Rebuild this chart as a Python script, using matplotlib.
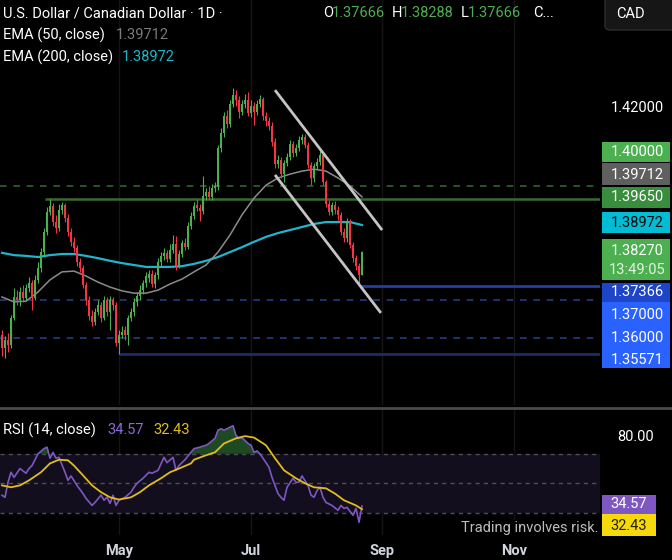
import matplotlib
matplotlib.use("Agg")
import matplotlib.pyplot as plt
from matplotlib import patches, font_manager
import numpy as np

# daily candles, oldest first (last bar is the live one)
opens = [1.3608, 1.3574, 1.3595, 1.3582, 1.3653, 1.3708, 1.3700, 1.3721, 1.3705, 1.3732,
         1.3745, 1.3705, 1.3753, 1.3784, 1.3826, 1.3879, 1.3931, 1.3947, 1.3905, 1.3889,
         1.3937, 1.3950, 1.3916, 1.3879, 1.3853, 1.3837, 1.3800, 1.3784, 1.3739, 1.3700,
         1.3658, 1.3642, 1.3669, 1.3687, 1.3653, 1.3700, 1.3669, 1.3700, 1.3687, 1.3587,
         1.3608, 1.3621, 1.3608, 1.3653, 1.3669, 1.3695, 1.3711, 1.3726, 1.3745, 1.3758,
         1.3768, 1.3742, 1.3766, 1.3800, 1.3816, 1.3824, 1.3808, 1.3831, 1.3847, 1.3789,
         1.3821, 1.3850, 1.3839, 1.3895, 1.3921, 1.3950, 1.3942, 1.3934, 1.3974, 1.3984,
         1.3971, 1.3995, 1.3997, 1.4100, 1.4139, 1.4184, 1.4163, 1.4215, 1.4239, 1.4226,
         1.4194, 1.4215, 1.4226, 1.4192, 1.4210, 1.4194, 1.4215, 1.4229, 1.4184, 1.4171,
         1.4158, 1.4116, 1.4058, 1.4068, 1.4031, 1.4060, 1.4076, 1.4110, 1.4087, 1.4100,
         1.4121, 1.4129, 1.4108, 1.4055, 1.4021, 1.4052, 1.4063, 1.4081, 1.4010, 1.3952,
         1.3931, 1.3950, 1.3937, 1.3924, 1.3879, 1.3863, 1.3905, 1.3845, 1.3810, 1.3789,
         1.37666]
highs = [1.3621, 1.3605, 1.3613, 1.3661, 1.3732, 1.3726, 1.3734, 1.3739, 1.3742, 1.3760,
         1.3753, 1.3766, 1.3800, 1.3837, 1.3889, 1.3945, 1.3965, 1.3955, 1.3924, 1.3952,
         1.3958, 1.3955, 1.3926, 1.3889, 1.3866, 1.3845, 1.3810, 1.3792, 1.3747, 1.3711,
         1.3674, 1.3679, 1.3700, 1.3695, 1.3711, 1.3708, 1.3711, 1.3708, 1.3695, 1.3621,
         1.3632, 1.3632, 1.3661, 1.3679, 1.3705, 1.3721, 1.3739, 1.3753, 1.3774, 1.3779,
         1.3779, 1.3774, 1.3810, 1.3826, 1.3837, 1.3831, 1.3847, 1.3871, 1.3868, 1.3831,
         1.3858, 1.3863, 1.3905, 1.3931, 1.3958, 1.3966, 1.3952, 1.4026, 1.3995, 1.4000,
         1.4005, 1.4010, 1.4108, 1.4152, 1.4194, 1.4200, 1.4226, 1.4258, 1.4252, 1.4237,
         1.4226, 1.4242, 1.4247, 1.4226, 1.4221, 1.4226, 1.4239, 1.4234, 1.4194, 1.4181,
         1.4168, 1.4126, 1.4081, 1.4076, 1.4068, 1.4087, 1.4121, 1.4118, 1.4110, 1.4131,
         1.4137, 1.4137, 1.4116, 1.4063, 1.4060, 1.4073, 1.4092, 1.4089, 1.4016, 1.3963,
         1.3958, 1.3960, 1.3947, 1.3931, 1.3889, 1.3916, 1.3913, 1.3853, 1.3818, 1.3797,
         1.38288]
lows = [1.3553, 1.3547, 1.3563, 1.3574, 1.3647, 1.3687, 1.3684, 1.3695, 1.3700, 1.3721,
        1.3674, 1.3700, 1.3745, 1.3774, 1.3818, 1.3871, 1.3924, 1.3895, 1.3876, 1.3881,
        1.3926, 1.3905, 1.3868, 1.3842, 1.3826, 1.3789, 1.3774, 1.3732, 1.3687, 1.3647,
        1.3632, 1.3634, 1.3661, 1.3642, 1.3647, 1.3658, 1.3621, 1.3674, 1.3579, 1.35571,
        1.3600, 1.3595, 1.3582, 1.3645, 1.3658, 1.3684, 1.3700, 1.3716, 1.3734, 1.3747,
        1.3734, 1.3732, 1.3755, 1.3789, 1.3805, 1.3800, 1.3800, 1.3824, 1.3779, 1.3784,
        1.3813, 1.3831, 1.3834, 1.3887, 1.3913, 1.3934, 1.3908, 1.3926, 1.3963, 1.3963,
        1.3963, 1.3984, 1.3989, 1.4089, 1.4129, 1.4152, 1.4155, 1.4208, 1.4210, 1.4179,
        1.4187, 1.4205, 1.4184, 1.4181, 1.4160, 1.4187, 1.4208, 1.4173, 1.4158, 1.4147,
        1.4105, 1.4047, 1.4047, 1.4021, 1.4010, 1.4052, 1.4068, 1.4076, 1.4079, 1.4092,
        1.4110, 1.4100, 1.4047, 1.4002, 1.4010, 1.4044, 1.4055, 1.4002, 1.3945, 1.3924,
        1.3924, 1.3926, 1.3910, 1.3871, 1.3853, 1.3853, 1.3837, 1.3800, 1.3779, 1.37366,
        1.37666]
closes = [1.3574, 1.3595, 1.3582, 1.3653, 1.3708, 1.3700, 1.3721, 1.3705, 1.3732, 1.3745,
          1.3705, 1.3753, 1.3784, 1.3826, 1.3879, 1.3931, 1.3947, 1.3905, 1.3889, 1.3937,
          1.3950, 1.3916, 1.3879, 1.3853, 1.3837, 1.3800, 1.3784, 1.3739, 1.3700, 1.3658,
          1.3642, 1.3669, 1.3687, 1.3653, 1.3700, 1.3669, 1.3700, 1.3687, 1.3587, 1.3608,
          1.3616, 1.3608, 1.3653, 1.3669, 1.3695, 1.3711, 1.3726, 1.3745, 1.3763, 1.3768,
          1.3742, 1.3766, 1.3800, 1.3816, 1.3824, 1.3808, 1.3831, 1.3847, 1.3789, 1.3821,
          1.3850, 1.3839, 1.3895, 1.3921, 1.3947, 1.3942, 1.3934, 1.3974, 1.3984, 1.3971,
          1.3995, 1.4000, 1.4100, 1.4139, 1.4184, 1.4163, 1.4215, 1.4239, 1.4226, 1.4194,
          1.4215, 1.4226, 1.4192, 1.4210, 1.4194, 1.4215, 1.4229, 1.4184, 1.4171, 1.4158,
          1.4116, 1.4058, 1.4068, 1.4031, 1.4060, 1.4076, 1.4110, 1.4087, 1.4100, 1.4121,
          1.4129, 1.4108, 1.4055, 1.4021, 1.4052, 1.4063, 1.4081, 1.4010, 1.3952, 1.3931,
          1.3950, 1.3937, 1.3924, 1.3879, 1.3863, 1.3905, 1.3845, 1.3810, 1.3789, 1.3766,
          1.38270]

# moving averages, read every 4th bar
ema_idx = [0, 4, 8, 12, 16, 20, 24, 28, 32, 36, 40, 44, 48, 52, 56, 60,
           64, 68, 72, 76, 80, 84, 88, 92, 96, 100, 104, 108, 112, 116, 120]
ema50 = [1.3708, 1.3695, 1.3697, 1.3721, 1.3753, 1.3774, 1.3776, 1.3763, 1.3747, 1.3734,
         1.3724, 1.3718, 1.3718, 1.3726, 1.3742, 1.3755, 1.3774, 1.3792, 1.3826, 1.3871,
         1.3924, 1.3968, 1.4002, 1.4021, 1.4031, 1.4039, 1.4044, 1.4039, 1.4021, 1.4000,
         1.39712]
ema200 = [1.3824, 1.3818, 1.3816, 1.3813, 1.3818, 1.3821, 1.3821, 1.3816, 1.3810, 1.3803,
          1.3797, 1.3792, 1.3787, 1.3787, 1.3787, 1.3789, 1.3795, 1.3803, 1.3813, 1.3826,
          1.3839, 1.3853, 1.3866, 1.3876, 1.3884, 1.3892, 1.3900, 1.3905, 1.3905, 1.3905,
          1.38972]

rsi_idx = [0, 1, 2, 3, 4, 6, 8, 9, 10, 12, 14, 15, 16, 17, 18, 19, 21, 22, 23, 25,
           27, 28, 30, 31, 33, 34, 35, 36, 37, 38, 39, 41, 43, 44, 45, 47, 49, 50, 52, 54,
           55, 57, 58, 59, 61, 63, 64, 66, 68, 69, 71, 72, 73, 74, 76, 77, 78, 79, 80, 82,
           83, 84, 85, 86, 88, 89, 90, 92, 93, 94, 95, 97, 98, 99, 100, 102, 103, 104, 105, 106,
           107, 108, 110, 112, 113, 114, 115, 117, 118, 119, 120]
rsi = [41.9, 40.5, 50.7, 57.5, 54.0, 60.0, 56.8, 60.0, 62.0, 70.0, 73.5, 74.5, 67.0, 71.0, 67.0, 67.6, 57.5, 52.0, 55.0, 48.6,
       43.0, 39.8, 35.0, 37.0, 42.0, 38.5, 40.5, 36.4, 41.9, 35.0, 38.5, 40.5, 44.0, 47.3, 50.0, 53.4, 57.5, 56.8, 58.8, 67.6,
       64.0, 67.6, 58.8, 62.0, 66.0, 71.0, 73.5, 74.5, 75.8, 77.0, 80.5, 86.0, 87.0, 86.0, 88.0, 89.0, 82.5, 80.5, 81.0, 77.0,
       75.8, 71.0, 72.0, 70.0, 64.0, 60.8, 54.0, 43.0, 40.5, 38.5, 47.3, 53.4, 50.7, 50.7, 55.0, 48.6, 42.0, 40.5, 45.0, 47.3,
       40.5, 37.0, 35.0, 31.7, 35.0, 33.0, 33.7, 28.3, 33.0, 23.6, 34.57]
rsi_ma_idx = [0, 3, 6, 9, 13, 16, 19, 22, 24, 27, 30, 33, 36, 39, 43, 46, 49, 53, 56, 59,
              63, 64, 68, 71, 74, 78, 81, 84, 88, 91, 94, 98, 101, 104, 108, 111, 114, 118, 120]
rsi_ma = [48.6, 47.3, 48.6, 52.0, 57.5, 63.5, 66.0, 65.6, 62.0, 55.4, 48.6, 44.0, 40.5, 39.0, 40.5, 44.0, 48.6, 53.4, 57.5, 60.0,
          63.5, 66.0, 69.0, 71.0, 77.0, 80.5, 82.0, 81.0, 75.8, 67.0, 58.8, 53.4, 50.0, 47.3, 46.6, 43.0, 38.5, 35.0, 32.43]

month_labels = ["May", "Jul", "Sep", "Nov"]
month_pos = [38.9, 82.9, 126.6, 170.8]

# pixel helpers (figure is 672 x 560)
W, H = 672, 560
def fx(px):
    return px / W
def fy(py):
    return 1 - py / H

names = {f.name for f in font_manager.fontManager.ttflist}
base_font = "Liberation Sans Narrow" if "Liberation Sans Narrow" in names else "Roboto"
plt.rcParams["font.family"] = [base_font, "DejaVu Sans"]

BG = "#000000"
UP = "#4caf50"
DOWN = "#f23645"

fig = plt.figure(figsize=(6.72, 5.6), dpi=100, facecolor=BG)
ax = fig.add_axes([0, fy(405), fx(600), 405 / H])
ax_rsi = fig.add_axes([0, fy(535), fx(600), 125 / H])
for a in (ax, ax_rsi):
    a.set_facecolor(BG)
    a.set_xlim(-0.667, 199.33)
    a.axis("off")
    for m in month_pos:
        a.axvline(m, color="#151515", lw=1, zorder=0)

ax.set_ylim(1.342385, 1.4489)
ax_rsi.set_ylim(14.95, 99.7)

# levels
ax.axhline(1.40000, color="#2f612f", lw=1.2, dashes=(4, 4), zorder=1)
ax.axhline(1.37000, color="#243c80", lw=1.2, dashes=(4, 4), zorder=1)
ax.axhline(1.36000, color="#243c80", lw=1.2, dashes=(4, 4), zorder=1)
ax.hlines(1.39650, 14.3, 199.33, color="#3a6a34", lw=1.8, zorder=1)
ax.hlines(1.37366, 119.3, 199.33, color="#1f3fa8", lw=2, zorder=1)
ax.hlines(1.35571, 39.0, 199.33, color="#1b2c6e", lw=2, zorder=1)

# moving averages
ax.plot(ema_idx, ema200, color="#1fb5cc", lw=1.6, zorder=2)
ax.plot(ema_idx, ema50, color="#8c8c8c", lw=1.1, zorder=2)

# candles
o = np.array(opens)
c = np.array(closes)
h = np.array(highs)
l = np.array(lows)
x = np.arange(len(c))
cols = np.where(c >= o, UP, DOWN)
ax.vlines(x, l, h, colors=cols, lw=0.8, zorder=3)
ax.bar(x, np.maximum(np.abs(c - o), 0.00008), bottom=np.minimum(o, c),
       width=0.66, color=cols, linewidth=0, zorder=4)

# falling channel
ax.plot([91, 126.7], [1.4252, 1.3884], color="#c4c4c4", lw=2, zorder=5, solid_capstyle="butt")
ax.plot([91, 126.3], [1.4029, 1.3666], color="#c4c4c4", lw=2, zorder=5, solid_capstyle="butt")

# RSI panel
ax_rsi.axhspan(30, 70, color="#120e1d", lw=0, zorder=0)
for lv in (70, 50, 30):
    ax_rsi.axhline(lv, color="#505050", lw=1, dashes=(3, 3), zorder=1)
ri = np.array(rsi_idx, dtype=float)
rv = np.array(rsi)
ax_rsi.fill_between(ri, rv, 70, where=rv > 70, interpolate=True,
                    color="#1d4a22", lw=0, zorder=2)
ax_rsi.plot(ri, rv, color="#7e57c2", lw=1.2, zorder=3)
ax_rsi.plot(rsi_ma_idx, rsi_ma, color="#e0bd1c", lw=1.3, zorder=4)

# panel separator
fig.add_artist(plt.Line2D([0, 1], [fy(408), fy(408)], color="#4a4a4a", lw=2))

FS = 10.5

def txt(px, py, s, color="white", ha="left", size=FS, **kw):
    fig.text(fx(px), fy(py), s, color=color, ha=ha, va="center", fontsize=size, **kw)

def tag(top, bot, face, x0=602, x1=670):
    fig.add_artist(patches.Rectangle((fx(x0), fy(bot)), fx(x1) - fx(x0), (bot - top) / H,
                                     transform=fig.transFigure, facecolor=face, lw=0))

# header
txt(3, 13, "U.S. Dollar / Canadian Dollar · 1D ·")
txt(323, 13, "O")
txt(332, 13, "1.37666", color=UP)
txt(392, 13, "H")
txt(401, 13, "1.38288", color=UP)
txt(461, 13, "L")
txt(468, 13, "1.37666", color=UP)
txt(533, 13, "C...")
txt(3, 35, "EMA (50, close)")
txt(116, 35, "1.39712", color="#7a7a7a")
txt(3, 57, "EMA (200, close)")
txt(122, 57, "1.38972", color="#1fb5cc")

fig.add_artist(patches.FancyBboxPatch((fx(605), fy(30)), fx(80), 34 / H,
                                      boxstyle="round,pad=0,rounding_size=0.008",
                                      transform=fig.transFigure, facecolor="#161616",
                                      edgecolor="#2c2c2c", lw=1))
txt(616, 14, "CAD")

# price scale
txt(637, 108, "1.42000", ha="center")
tag(142, 162, UP)
txt(637, 152, "1.40000", ha="center")
tag(163, 185, "#5f5f5f")
txt(637, 175, "1.39712", ha="center")
tag(187, 208, "#388e3c")
txt(637, 197, "1.39650", ha="center")
tag(212, 233, "#00bcd4")
txt(637, 223, "1.38972", ha="center", color="#0a0a0a")
tag(239, 280, UP)
txt(637, 251, "1.38270", ha="center")
txt(637, 270, "13:49:05", ha="center", color="#e3f3e3")
tag(283, 302, "#1e44c8")
txt(637, 292, "1.37366", ha="center")
tag(302, 368, "#2962ff")
txt(637, 315, "1.37000", ha="center")
txt(637, 338, "1.36000", ha="center")
txt(637, 360, "1.35571", ha="center")

# RSI labels
txt(3, 430, "RSI (14, close)")
txt(107, 430, "34.57", color="#8c6bd6")
txt(153, 430, "32.43", color="#e0bd1c")
txt(636, 437, "80.00", ha="center")
tag(495, 514, "#7e57c2", x1=656)
txt(629, 504, "34.57", ha="center")
tag(514, 536, "#f5d90a", x1=656)
txt(629, 526, "32.43", ha="center", color="#222222")
txt(598, 528, "Trading involves risk.", ha="right", color="#bdbdbd",
    bbox=dict(facecolor=BG, edgecolor="none", pad=1))

# time axis
for lab, pos in zip(month_labels, month_pos):
    px = 2 + 3 * pos
    txt(px, 551, lab, ha="center", color="#d1d4dc", fontweight="bold")

fig.savefig("out.png", dpi=100, facecolor=BG)
